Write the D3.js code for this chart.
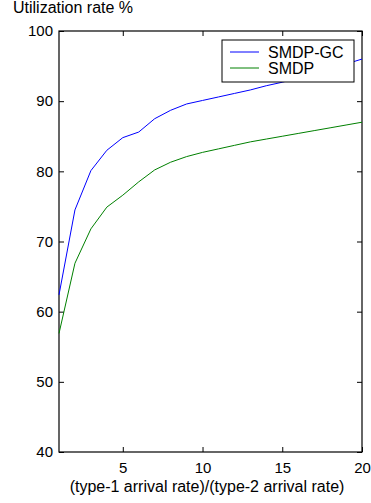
<!DOCTYPE html>
<html>
<head>
<meta charset="utf-8">
<script src="https://cdn.jsdelivr.net/npm/d3@7"></script>
<style>
  body { margin: 0; background: #fff; }
  svg text { font-family: "Liberation Sans", Arial, sans-serif; fill: #000; }
</style>
</head>
<body>
<script>
// data
const ratio = [1, 2, 3, 4, 5, 6, 7, 8, 9, 10, 11, 12, 13, 14, 15, 16, 17, 18, 19, 20];
const smdpGC = [62.4, 74.5, 80.1, 83.0, 84.8, 85.6, 87.5, 88.7, 89.6, 90.1, 90.6, 91.1, 91.6, 92.2, 92.7, 93.3, 94.0, 94.6, 95.3, 96.0];
const smdp = [56.9, 66.9, 71.8, 74.9, 76.6, 78.5, 80.2, 81.3, 82.1, 82.7, 83.2, 83.7, 84.2, 84.6, 85.0, 85.4, 85.8, 86.2, 86.6, 87.0];
const xTicks = [5, 10, 15, 20];
const yTicks = [40, 50, 60, 70, 80, 90, 100];
const seriesNames = ["SMDP-GC", "SMDP"];
const seriesColors = ["#0000ff", "#008000"];

const W = 371, H = 503;
const margin = { top: 31, right: 9, bottom: 51, left: 59 },
  width = W - margin.left - margin.right,
  height = H - margin.top - margin.bottom;

const svg = d3.select("body").append("svg")
  .attr("width", W)
  .attr("height", H);

const g = svg.append("g")
  .attr("transform", "translate(" + margin.left + "," + margin.top + ")");

const x = d3.scaleLinear().domain([1, 20]).range([0, width]);
const y = d3.scaleLinear().domain([40, 100]).range([height, 0]);

const fs = 15, fsLabel = 16;

// axes, ticks pointing inward
const axBottom = g.append("g")
  .attr("transform", "translate(0," + height + ")")
  .call(d3.axisBottom(x).tickValues(xTicks).tickSize(-5).tickSizeOuter(0).tickPadding(10));
const axLeft = g.append("g")
  .call(d3.axisLeft(y).tickValues(yTicks).tickSize(-5).tickSizeOuter(0).tickPadding(6));
const axTop = g.append("g")
  .call(d3.axisTop(x).tickValues(xTicks).tickSize(-5).tickSizeOuter(0).tickFormat(""));
const axRight = g.append("g")
  .attr("transform", "translate(" + width + ",0)")
  .call(d3.axisRight(y).tickValues(yTicks).tickSize(-5).tickSizeOuter(0).tickFormat(""));

[axBottom, axLeft, axTop, axRight].forEach(a => {
  a.select(".domain").remove();
  a.selectAll("line").attr("stroke", "#000").attr("stroke-width", 1);
  a.selectAll("text").attr("font-size", fs).attr("font-family", null);
});

// frame
g.append("rect")
  .attr("width", width)
  .attr("height", height)
  .attr("fill", "none")
  .attr("stroke", "#000")
  .attr("stroke-width", 1.2);

// lines
const line = d3.line().x((d, i) => x(ratio[i])).y(d => y(d));
[smdpGC, smdp].forEach((s, k) => {
  g.append("path")
    .datum(s)
    .attr("fill", "none")
    .attr("stroke", seriesColors[k])
    .attr("stroke-width", 1)
    .attr("d", line);
});

// legend
const lg = svg.append("g").attr("transform", "translate(222,40)");
lg.append("rect")
  .attr("width", 132)
  .attr("height", 42)
  .attr("fill", "#fff")
  .attr("stroke", "#000")
  .attr("stroke-width", 1);
const items = lg.selectAll("g.item")
  .data(seriesNames)
  .enter().append("g")
  .attr("class", "item")
  .attr("transform", (d, i) => "translate(0," + (12 + i * 16) + ")");
items.append("line")
  .attr("x1", 8).attr("x2", 37)
  .attr("stroke", (d, i) => seriesColors[i])
  .attr("stroke-width", 1);
items.append("text")
  .attr("x", 46)
  .attr("y", 5.5)
  .attr("font-size", fsLabel)
  .text(d => d);

// titles
svg.append("text")
  .attr("x", 13)
  .attr("y", 13)
  .attr("font-size", fsLabel)
  .text("Utilization rate %");
svg.append("text")
  .attr("x", 207)
  .attr("y", 492)
  .attr("text-anchor", "middle")
  .attr("font-size", fsLabel)
  .text("(type-1 arrival rate)/(type-2 arrival rate)");
</script>
</body>
</html>
